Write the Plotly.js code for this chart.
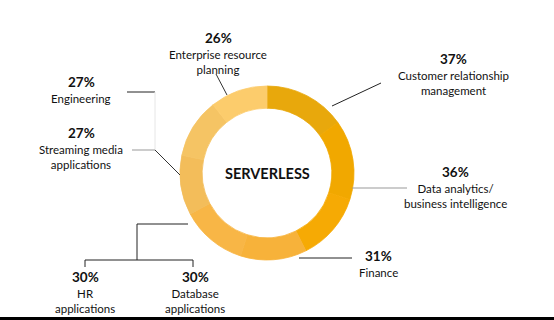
<!DOCTYPE html>
<html>
<head>
<meta charset="utf-8">
<script src="https://cdn.plot.ly/plotly-3.0.1.min.js"></script>
<style>html,body{margin:0;padding:0;background:#fff;}#chart{width:554px;height:320px;}</style>
</head>
<body>
<div id="chart"></div>
<script>
// Data (clockwise from 12 o'clock)
const categories = [
  "Customer relationship<br>management",
  "Data analytics/<br>business intelligence",
  "Finance",
  "Database<br>applications",
  "HR<br>applications",
  "Streaming media<br>applications",
  "Engineering",
  "Enterprise resource<br>planning"
];
const shares = [37, 36, 31, 30, 30, 27, 27, 26];
const centerLabel = "SERVERLESS";

// Styling / layout helpers (not data)
const colors = ["#E8A80C", "#F1A800", "#F6AA04", "#F7B23A", "#F8B646", "#F3BD5A", "#F5C464", "#FCCC6C"];
const W = 554, H = 320;
const px = x => x / W, py = y => 1 - y / H;
// label anchor positions (pixel centre x, pixel y of percent line)
const labelPos = [
  [453, 59], [455, 172], [378, 256], [195, 277], [85, 277], [81, 133], [81, 82], [218, 38]
];

const annotations = [];
categories.forEach((c, i) => {
  const [x, y] = labelPos[i];
  annotations.push({x: px(x), y: py(y), xref: "paper", yref: "paper", text: "<b>" + shares[i] + "%</b>",
    showarrow: false, xanchor: "center", yanchor: "middle", font: {family: "Lato, 'Noto Sans', sans-serif", size: 13.5, color: "#111"}});
  annotations.push({x: px(x), y: py(y + 8), xref: "paper", yref: "paper", text: c, align: "center",
    showarrow: false, xanchor: "center", yanchor: "top", font: {family: "Lato, 'Noto Sans', sans-serif", size: 11.5, color: "#111"}});
});
annotations.push({x: px(267), y: py(173), xref: "paper", yref: "paper", text: "<b>" + centerLabel + "</b>",
  showarrow: false, xanchor: "center", yanchor: "middle", font: {family: "Lato, 'Noto Sans', sans-serif", size: 14.5, color: "#111"}});

const line = (x0, y0, x1, y1, color, w) => ({type: "line", xref: "paper", yref: "paper",
  x0: px(x0), y0: py(y0), x1: px(x1), y1: py(y1), line: {color: color, width: w || 1}});

const shapes = [
  line(332, 106, 381, 83, "#222"),          // CRM
  line(352, 188, 407, 188, "#999"),         // Data analytics
  line(299, 258, 352, 258, "#222"),         // Finance
  line(227, 95, 216, 74, "#333"),           // ERP
  line(127, 92, 155, 92, "#222"),           // Engineering
  line(155, 92, 155, 150, "#e6e6e6"),       // Engineering faint vertical
  line(132, 150, 155, 150, "#999"),         // Streaming
  line(155, 150, 180, 175, "#333"),         // Streaming diagonal
  line(137, 224, 188, 224, "#222"),         // HR/DB bracket
  line(137, 224, 137, 260, "#222"),
  line(85, 260, 193, 260, "#222"),
  line(85, 260, 85, 267, "#222"),
  line(193, 260, 193, 267, "#222"),
  {type: "rect", xref: "paper", yref: "paper", x0: 0, x1: 1, y0: 0, y1: 3 / H, fillcolor: "#000", line: {width: 0}}
];

const trace = {
  type: "pie",
  values: shares,
  labels: categories,
  sort: false,
  direction: "clockwise",
  rotation: 0,
  hole: 0.745,
  textinfo: "none",
  hoverinfo: "label+value",
  marker: {colors: colors, line: {width: 0.8, color: colors}},
  domain: {x: [px(180), px(354)], y: [py(260), py(86)]},
  showlegend: false
};

Plotly.newPlot("chart", [trace], {
  width: W, height: H,
  margin: {l: 0, r: 0, t: 0, b: 0},
  paper_bgcolor: "#fff",
  showlegend: false,
  annotations: annotations,
  shapes: shapes
}, {displayModeBar: false, staticPlot: true});
</script>
</body>
</html>
